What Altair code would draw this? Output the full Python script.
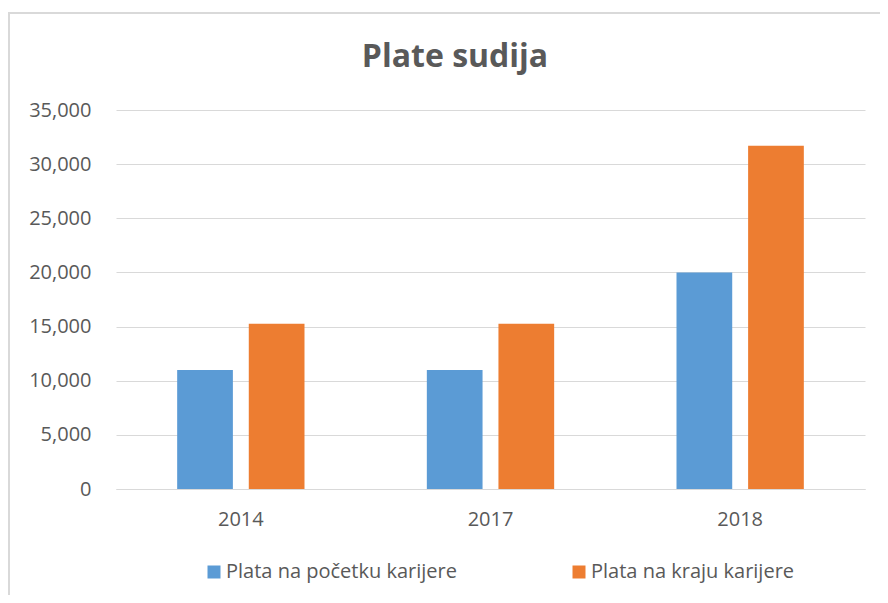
import altair as alt
import pandas as pd

title_text = "Plate sudija"
years = ["2014", "2017", "2018"]
series = ["Plata na početku karijere", "Plata na kraju karijere"]
start_vals = [11000, 11000, 20000]
end_vals = [15250, 15250, 31700]
colors = ["#5B9BD5", "#ED7D31"]
y_ticks = [0, 5000, 10000, 15000, 20000, 25000, 30000, 35000]

rows = []
for i, yr in enumerate(years):
    rows.append({"year": yr, "series": series[0], "value": start_vals[i]})
    rows.append({"year": yr, "series": series[1], "value": end_vals[i]})
df = pd.DataFrame(rows)

TXT = "#595959"
FONT = "Open Sans"

bars = alt.Chart(df).mark_bar().encode(
    x=alt.X("year:N", sort=years, title=None,
            scale=alt.Scale(paddingInner=0.49, paddingOuter=0.245),
            axis=alt.Axis(labelAngle=0, domain=True, domainColor="#d9d9d9",
                          domainWidth=1, ticks=False, labelPadding=20,
                          labelFontSize=20, labelColor=TXT, labelFont=FONT)),
    xOffset=alt.XOffset("series:N", sort=series,
                        scale=alt.Scale(paddingInner=0.222, paddingOuter=0)),
    y=alt.Y("value:Q", title=None,
            scale=alt.Scale(domain=[0, 35000], nice=False),
            axis=alt.Axis(values=y_ticks, format=",.0f", domain=False, ticks=False,
                          labelPadding=25, labelFontSize=20, labelColor=TXT,
                          labelFont=FONT, grid=True, gridColor="#d9d9d9",
                          gridWidth=1)),
    color=alt.Color("series:N", sort=series,
                    scale=alt.Scale(domain=series, range=colors),
                    legend=alt.Legend(title=None, orient="none", legendX=88,
                                      legendY=452, direction="horizontal",
                                      symbolType="square", symbolSize=169,
                                      symbolStrokeWidth=0, symbolOpacity=1,
                                      labelFontSize=20, labelColor=TXT,
                                      labelFont=FONT, columnPadding=112,
                                      labelOffset=2, labelLimit=500)),
)

border = alt.Chart(pd.DataFrame({"a": [0]})).mark_rect(
    fill=None, stroke="#d9d9d9", strokeWidth=2
).encode(
    x=alt.value(-107), x2=alt.value(810), y=alt.value(-97), y2=alt.value(600)
)

title = alt.Chart(pd.DataFrame({"t": [title_text]})).mark_text(
    font=FONT, fontSize=32, fontWeight="bold", color=TXT,
    align="center", baseline="middle"
).encode(text="t:N", x=alt.value(339), y=alt.value(-53))

chart = alt.layer(border, bars, title).properties(
    width=749,
    height=379,
    autosize=alt.AutoSizeParams(type="none"),
    padding={"left": 108, "top": 102, "right": 15, "bottom": 106},
).configure_view(stroke=None)

chart.save("out.html", embed_options={"renderer": "svg", "actions": False})
